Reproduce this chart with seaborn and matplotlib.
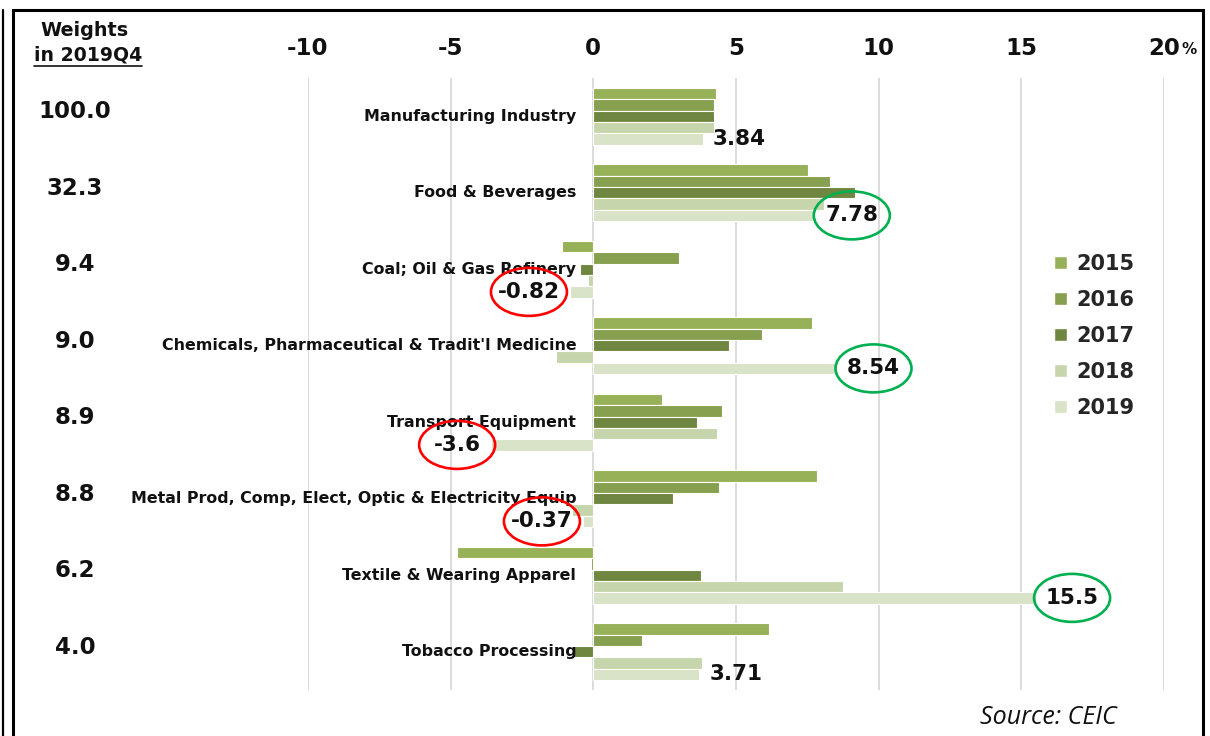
import numpy as np
import pandas as pd
import seaborn as sns
import matplotlib.pyplot as plt
from matplotlib.patches import Ellipse, Rectangle, Patch
from matplotlib.lines import Line2D
from matplotlib.transforms import blended_transform_factory

# ---- data -------------------------------------------------------------
categories = [
    "Manufacturing Industry",
    "Food & Beverages",
    "Coal; Oil & Gas Refinery",
    "Chemicals, Pharmaceutical & Tradit'l Medicine",
    "Transport Equipment",
    "Metal Prod, Comp, Elect, Optic & Electricity Equip",
    "Textile & Wearing Apparel",
    "Tobacco Processing",
]
years = ["2015", "2016", "2017", "2018", "2019"]
weights = ["100.0", "32.3", "9.4", "9.0", "8.9", "8.8", "6.2", "4.0"]

g2015 = [4.30, 7.52, -1.10, 7.66, 2.42, 7.85, -4.77, 6.16]
g2016 = [4.24, 8.28, 3.00, 5.90, 4.52, 4.40, -0.08, 1.70]
g2017 = [4.24, 9.17, -0.47, 4.75, 3.65, 2.80, 3.77, -0.73]
g2018 = [4.24, 8.10, -0.20, -1.30, 4.35, -0.75, 8.75, 3.80]
g2019 = [3.84, 7.78, -0.82, 8.54, -3.60, -0.37, 15.5, 3.71]

# ring colour around the 2019 value label (None = no ring)
highlight = [None, "green", "red", "green", "red", "red", "green", None]

xticks = [-10, -5, 0, 5, 10, 15, 20]

# ---- styling ----------------------------------------------------------
palette = ["#97b158", "#86a04f", "#6f8640", "#c6d5ab", "#d9e3c8"]
ring_colors = {"green": "#00b050", "red": "#ff0000"}
ink = "#111111"

sns.set_theme(style="white")
plt.rcParams["font.family"] = ["DejaVu Sans"]

W, H = 1210, 736
fig = plt.figure(figsize=(W / 100, H / 100), dpi=100)


def fx(px):
    return px / W


def fy(py):
    return 1 - py / H


ax = fig.add_axes([fx(308), fy(690), (1164 - 308) / W, (690 - 78) / H])

series = [g2015, g2016, g2017, g2018, g2019]
df = pd.DataFrame(
    [
        {"category": c, "year": yr, "value": vals[i]}
        for yr, vals in zip(years, series)
        for i, c in enumerate(categories)
    ]
)

bar_group_width = 0.74
sns.barplot(
    data=df, x="value", y="category", hue="year",
    order=categories, hue_order=years, palette=palette, saturation=1,
    orient="h", width=bar_group_width, edgecolor="white", linewidth=0.8,
    legend=False, ax=ax,
)

ax.set_xlim(-10, 20)
ax.set_ylim(len(categories) - 0.5, -0.5)
ax.set_xlabel("")
ax.set_ylabel("")
ax.set_yticks([])
ax.xaxis.tick_top()
ax.set_xticks(xticks)
ax.set_xticklabels([str(t) for t in xticks], fontsize=16.5, fontweight="bold")
ax.tick_params(axis="x", length=0, pad=13, colors=ink)
ax.grid(axis="x", color="#d9d9d9", linewidth=1.3)
ax.grid(axis="y", visible=False)
ax.set_axisbelow(True)
for s in ax.spines.values():
    s.set_visible(False)

# category names next to the zero line
for i, c in enumerate(categories):
    ax.text(-0.6, i, c, ha="right", va="center", fontsize=11.4,
            fontweight="bold", color=ink, zorder=6)

# weights column on the left
wtrans = blended_transform_factory(fig.transFigure, ax.transData)
for i, w in enumerate(weights):
    ax.text(fx(75), i - 0.06, w, transform=wtrans, ha="center", va="center",
            fontsize=16.5, fontweight="bold", color=ink, clip_on=False)

fig.text(fx(84), fy(31), "Weights", ha="center", va="center",
         fontsize=13.8, fontweight="bold", color=ink)
hdr2 = fig.text(fx(88), fy(55), "in 2019Q4", ha="center", va="center",
                fontsize=13.6, fontweight="bold", color=ink)

# value labels for the 2019 bars
slot = bar_group_width / len(years)
y_off = 2 * slot
value_texts = []
for i, v in enumerate(g2019):
    pad = 0.35 if v >= 0 else -0.35
    t = ax.text(v + pad, i + y_off, f"{v:g}", ha="left" if v >= 0 else "right",
                va="center", fontsize=15.5, fontweight="bold", color=ink,
                zorder=7)
    value_texts.append(t)

# "%" after the last tick label
fig.text(fx(1181), fy(50), "%", ha="left", va="center", fontsize=11,
         fontweight="bold", color=ink)

# legend
handles = [Patch(facecolor=c, edgecolor="white") for c in palette]
fig.legend(handles, years, loc="upper left", bbox_to_anchor=(fx(1054), fy(254)),
           frameon=False, prop={"weight": "bold", "size": 15},
           handlelength=0.6, handleheight=0.6, handletextpad=0.45,
           labelspacing=0.77, borderaxespad=0, borderpad=0)

# source note
fig.text(fx(1048), fy(718), "Source: CEIC", ha="center", va="center",
         fontsize=18, fontstyle="italic", family=["Open Sans", "DejaVu Sans"],
         color=ink)

# outer frame
fig.add_artist(Rectangle((fx(13), fy(760)), (1203 - 13) / W, (760 - 10) / H,
                         fill=False, edgecolor="black", linewidth=2.2,
                         transform=fig.transFigure))
fig.add_artist(Line2D([fx(3), fx(3)], [fy(10), fy(740)], color="black",
                      linewidth=1.6, transform=fig.transFigure))

# rings and underline need text extents
fig.canvas.draw()
renderer = fig.canvas.get_renderer()
for t, hl in zip(value_texts, highlight):
    if hl is None:
        continue
    bb = t.get_window_extent(renderer)
    cx, cy = (bb.x0 + bb.x1) / 2, (bb.y0 + bb.y1) / 2
    fig.add_artist(Ellipse((cx / W, cy / H), 76 / W, 48 / H, fill=False,
                           edgecolor=ring_colors[hl], linewidth=1.9,
                           transform=fig.transFigure, zorder=8))

bb = hdr2.get_window_extent(renderer)
fig.add_artist(Line2D([bb.x0 / W, bb.x1 / W], [(bb.y0 - 1) / H] * 2,
                      color=ink, linewidth=1.2, transform=fig.transFigure))

fig.savefig("out.png", dpi=100)
